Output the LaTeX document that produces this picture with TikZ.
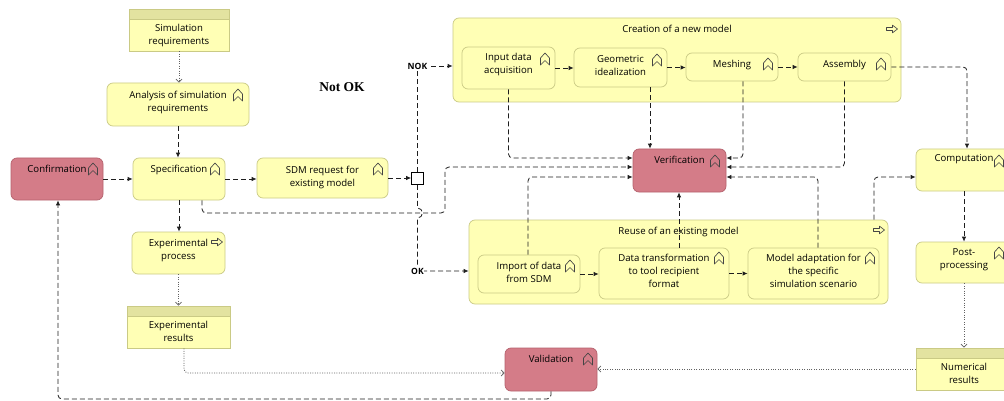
\documentclass[tikz,border=0pt]{standalone}
\usepackage{fontspec}
\setmainfont{Open Sans}
\newfontfamily\notokfont{Liberation Serif}
\usetikzlibrary{arrows.meta}
\definecolor{yfl}{HTML}{FFFFB5}
\definecolor{ybd}{HTML}{CACA85}
\definecolor{hdr}{HTML}{E3E3A0}
\definecolor{rfl}{HTML}{D47C88}
\definecolor{rbd}{HTML}{B5616D}
\definecolor{ink}{HTML}{1E1E1E}
\definecolor{icn}{HTML}{454545}
\newcommand\fnicon[1]{\draw[icn, line width=0.65pt, line join=round, shift={#1}] (-4.5,6) -- (-4.5,-1) -- (0,-6) -- (4.5,-1) -- (4.5,6) -- (0,1.5) -- cycle;}
\newcommand\pricon[1]{\draw[icn, line width=0.65pt, line join=round, shift={#1}] (-5.5,-1.5) -- (0.5,-1.5) -- (0.5,-3.8) -- (5.5,0) -- (0.5,3.8) -- (0.5,1.5) -- (-5.5,1.5) -- cycle;}
\tikzset{
 fs/.style={font=\fontsize{9.6}{13}\selectfont},
 ybox/.style={draw=ybd, fill=yfl, rounded corners=6pt, line width=0.7pt, inner sep=0pt},
 rbox/.style={draw=rbd, fill=rfl, rounded corners=6pt, line width=0.7pt, inner sep=0pt},
 artbox/.style={draw=ybd, fill=yfl, line width=0.7pt, inner sep=0pt,
   path picture={\fill[hdr] (path picture bounding box.north west) rectangle ([yshift=-10pt]path picture bounding box.north east);
   \draw[ybd, line width=0.7pt] ([yshift=-10pt]path picture bounding box.north west) -- ([yshift=-10pt]path picture bounding box.north east);}},
 tl/.style={anchor=north, inner sep=0pt, align=center, fs, yshift=-7pt, text=black},
 sz/.style 2 args={minimum width=#1pt, minimum height=#2pt},
 flow/.style={ink, line width=0.8pt, dash pattern=on 5pt off 3pt, rounded corners=4pt, -{Latex[length=5pt,width=4.5pt]}},
 access/.style={ink!70, line width=0.8pt, dash pattern=on 1pt off 1.4pt, rounded corners=4pt, -{Straight Barb[length=3pt,width=6pt]}},
 elab/.style={inner sep=0pt, font=\bfseries\fontsize{8.6}{9}\selectfont, text=black},
 junc/.style={draw=black, fill=white, line width=0.7pt, minimum size=12pt, inner sep=0pt},
}
\begin{document}
\begin{tikzpicture}[x=1pt, y=-1pt]
\useasboundingbox (0,0) rectangle (1004,401);
\clip (0,0) rectangle (1004,401);
\fill[white] (0,0) rectangle (1004,401);

% groups
\node[ybox, sz={448}{84}, label={[tl]north:Creation of a new model}] (creation) at (677,60) {};
\node[ybox, sz={419}{84}, label={[tl]north:Reuse of an existing model}] (reuse) at (678.5,262) {};

% left column
\node[artbox, sz={100}{42}, label={[tl, yshift=-8pt]north:Simulation\\requirements}] (simreq) at (179,30) {};
\node[ybox, sz={142}{43}, label={[tl, yshift=-1pt]north:Analysis of simulation\\requirements}] (analysis) at (178,104.5) {};
\node[rbox, sz={92}{42}, label={[tl]north:Confirmation}] (confirm) at (57,179) {};
\node[ybox, sz={92}{42}, label={[tl]north:Specification}] (spec) at (179,179) {};
\node[ybox, sz={131}{40}, label={[tl, yshift=-1pt]north:SDM request for\\existing model}] (sdm) at (322.5,178) {};
\node[junc] (jn) at (417.5,178.5) {};
\node[ybox, sz={93}{42}, label={[tl]north:Experimental\\process}] (exproc) at (178.5,253) {};
\node[artbox, sz={103}{42}, label={[tl, yshift=-8pt]north:Experimental\\results}] (expres) at (178.5,327) {};

% creation children
\node[ybox, sz={93}{42}, label={[tl, yshift=1pt]north:Input data\\acquisition}] (input) at (508.5,68) {};
\node[ybox, sz={93}{39}, label={[tl, yshift=-1pt]north:Geometric\\idealization}] (geom) at (620.5,67.5) {};
\node[ybox, sz={92}{28}, label={[tl]north:Meshing}] (mesh) at (732,67) {};
\node[ybox, sz={93}{28}, label={[tl]north:Assembly}] (asm) at (844.5,67) {};

% verification
\node[rbox, sz={93}{43}, label={[tl]north:Verification}] (verif) at (679.5,170.5) {};

% reuse children
\node[ybox, sz={102}{38}, label={[tl]north:Import of data\\from SDM}] (import) at (529,274) {};
\node[ybox, sz={130}{51}, label={[tl, yshift=1pt]north:Data transformation\\to tool recipient\\format}] (dt) at (664,273.5) {};
\node[ybox, sz={131}{51}, label={[tl, yshift=1pt]north:Model adaptation for\\the specific\\simulation scenario}] (ma) at (813.5,273.5) {};

% right column
\node[ybox, sz={96}{42}, label={[tl, yshift=1pt]north:Computation}] (comp) at (964,170) {};
\node[ybox, sz={96}{41}, label={[tl]north:Post-\\processing}] (post) at (964,262.5) {};
\node[artbox, sz={96}{42}, label={[tl, yshift=-8pt]north:Numerical\\results}] (numres) at (964,369) {};
\node[rbox, sz={92}{43}, label={[tl]north:Validation}] (val) at (551,369.5) {};

% free text
\node[font=\notokfont\bfseries\fontsize{13.5}{15}\selectfont, inner sep=0pt] (notok) at (342,87) {Not OK};

% icons
\fnicon{(238,95)}
\fnicon{(93,169)}
\fnicon{(215,169)}
\fnicon{(378,169)}
\fnicon{(545,59)}
\fnicon{(657,60)}
\fnicon{(768,64)}
\fnicon{(881,64)}
\fnicon{(715,161)}
\fnicon{(570,266)}
\fnicon{(719,258)}
\fnicon{(870,258)}
\fnicon{(999,161)}
\fnicon{(999,253)}
\fnicon{(588,359)}
\pricon{(892,29)}
\pricon{(879,230)}
\pricon{(217,242)}

% connectors
\coordinate (nokpt) at (417.5,66);
\coordinate (okpt) at (417.5,271);
\coordinate (loopbot) at (0,399);

\draw[access] (simreq.south) -- (simreq.south |- analysis.north);
\draw[flow] (analysis.south) -- (analysis.south |- spec.north);
\draw[flow] (confirm.east) -- (spec.west);
\draw[flow] (spec.east) -- (spec.east -| sdm.west);
\draw[flow] (sdm.east) -- (sdm.east -| jn.west);
\draw[flow, rounded corners=0pt] (jn.north) -- (nokpt) -- (nokpt -| creation.west);
\draw[flow, rounded corners=0pt] (jn.south) -- (417.5,208) arc[start angle=-90, end angle=90, radius=5] -- (okpt) -- (okpt -| reuse.west);
\node[elab, fill=white, inner sep=0.5pt] (noklbl) at (nokpt) {NOK};
\node[elab, fill=white, inner sep=0.5pt] (oklbl) at (okpt) {OK};
\draw[flow] ([xshift=23pt]spec.south) -- (202,213) -- (445,213) -- (445,167) -- ([yshift=3.5pt]verif.west);
\draw[flow] (spec.south) -- (spec.south |- exproc.north);
\draw[access] (exproc.south) -- (exproc.south |- expres.north);

\draw[flow] (input.east) -- (input.east -| geom.west);
\draw[flow] (geom.east) -- (geom.east -| mesh.west);
\draw[flow] (mesh.east) -- (asm.west);
\draw[flow] (input.south) |- ([yshift=12.5pt]verif.west);
\draw[flow] ([xshift=29.5pt]geom.south) -- ([xshift=29.5pt]geom.south |- verif.north);
\draw[flow] ([xshift=11pt]mesh.south) |- ([yshift=12.5pt]verif.east);
\draw[flow] (asm.south) |- ([yshift=3.5pt]verif.east);

\draw[flow] (import.east) -- (import.east -| dt.west);
\draw[flow] (dt.east) -- (ma.west);
\draw[flow] ([xshift=-1pt]import.north) |- ([yshift=-6.5pt]verif.west);
\draw[flow] ([xshift=15pt]dt.north) -- ([xshift=15pt]dt.north |- verif.south);
\draw[flow] ([xshift=4.5pt]ma.north) |- ([yshift=-6.5pt]verif.east);

\draw[flow] (asm.east) -| ([xshift=3pt]comp.north);
\draw[flow] ([xshift=195.5pt]reuse.north) |- ([yshift=-7pt]comp.west);
\draw[flow] (comp.south) -- (post.north);
\draw[access] (post.south) -- (numres.north);
\draw[access] (numres.west) -- (numres.west -| val.east);
\draw[access] ([xshift=5.5pt]expres.south) |- ([yshift=-3.5pt]val.west);
\draw[flow] (val.south) -- (val.south |- loopbot) -- ([xshift=1pt]confirm.south |- loopbot) -- ([xshift=1pt]confirm.south);
\end{tikzpicture}
\end{document}
